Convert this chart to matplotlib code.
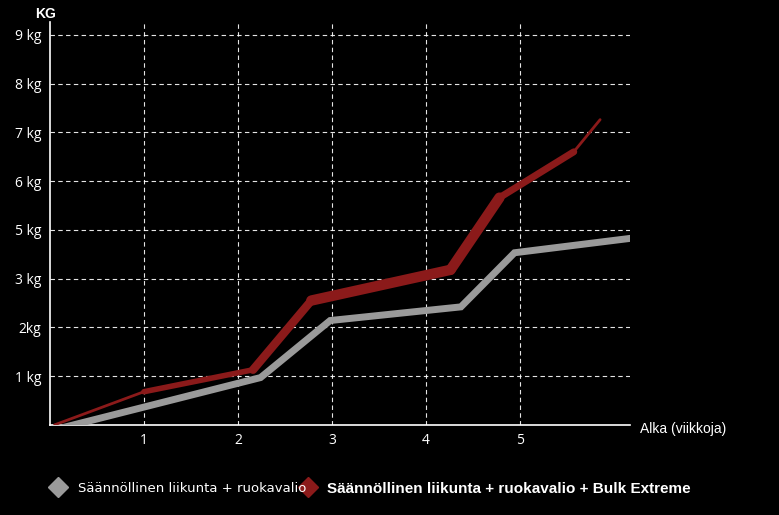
import matplotlib
matplotlib.use("Agg")
import matplotlib.pyplot as plt
from matplotlib.collections import LineCollection
from matplotlib.lines import Line2D
import numpy as np

ytick_labels = ["1 kg", "2kg", "3 kg", "5 kg", "6 kg", "7 kg", "8 kg", "9 kg"]
xtick_labels = ["1", "2", "3", "4", "5"]
gray_x = [0.13, 2.24, 2.98, 4.37, 4.94, 6.15]
gray_y = [-0.06, 0.97, 2.14, 2.42, 3.53, 3.82]
red_x = [0.05, 1.0, 2.16, 2.78, 4.26, 4.78, 5.57, 5.85]
red_y = [0.0, 0.68, 1.13, 2.55, 3.18, 4.66, 5.6, 6.26]
red_w = [1, 3, 5, 7, 8, 7, 3, 1]

fig = plt.figure(figsize=(7.79, 5.15), dpi=100, facecolor="black")
ax = fig.add_axes([0.064, 0.175, 0.745, 0.783], facecolor="black")
ax.set_xlim(0, 6.17)
ax.set_ylim(0, 8.27)
for s in ["top", "right"]:
    ax.spines[s].set_visible(False)
for s in ["left", "bottom"]:
    ax.spines[s].set_color("white")
    ax.spines[s].set_linewidth(1.2)
ax.set_yticks(range(1, 9))
ax.set_yticklabels(ytick_labels, color="white", fontsize=10, family="Open Sans")
ax.set_xticks(range(1, 6))
ax.set_xticklabels(xtick_labels, color="white", fontsize=10, family="Open Sans")
ax.tick_params(colors="white", length=0, pad=6)
ax.grid(True, color="white", linestyle=(0, (4, 3)), linewidth=0.8, alpha=0.9)

ax.plot(gray_x, gray_y, color="#9a9a9a", linewidth=5, solid_joinstyle="miter", zorder=3)
pts = np.column_stack([red_x, red_y])
segs = [pts[i:i+2] for i in range(len(pts)-1)]
widths = [(red_w[i] + red_w[i+1]) / 2 for i in range(len(segs))]
ax.add_collection(LineCollection(segs, linewidths=widths, colors="#8b1a1a", capstyle="round", zorder=4))

fig.text(0.045, 0.965, "KG", color="white", fontsize=10, fontweight="bold", family="Liberation Sans")
fig.text(0.822, 0.16, "Alka (viikkoja)", color="white", fontsize=10, family="Liberation Sans")

fig.text(0.1, 0.045, "Säännöllinen liikunta + ruokavalio", color="white", fontsize=9.5, family="Liberation Sans Narrow")
fig.text(0.42, 0.042, "Säännöllinen liikunta + ruokavalio + Bulk Extreme", color="white", fontsize=11, fontweight="bold", family="Liberation Sans")
fig.add_artist(Line2D([0.074], [0.055], marker="D", color="#9a9a9a", markersize=10, transform=fig.transFigure))
fig.add_artist(Line2D([0.395], [0.055], marker="D", color="#8b1a1a", markersize=10, transform=fig.transFigure))

fig.savefig("out.png", dpi=100, facecolor="black")
